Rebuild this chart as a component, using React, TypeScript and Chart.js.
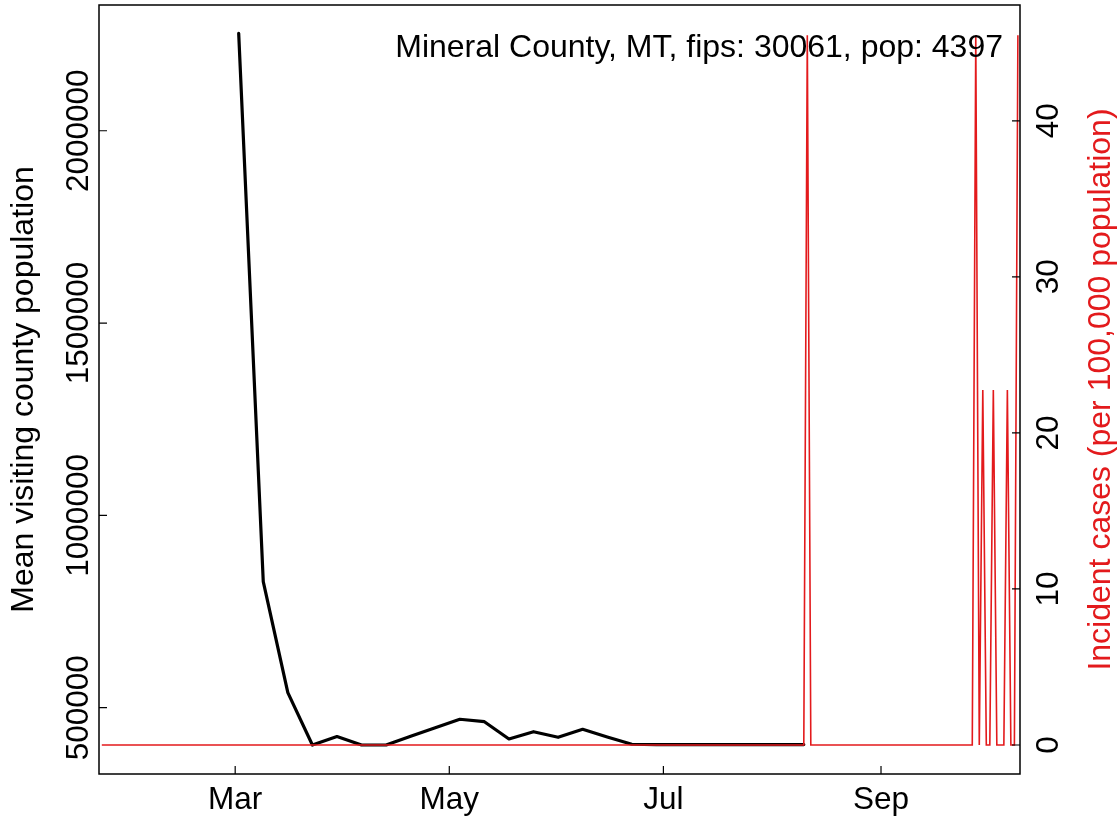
import React, { useEffect, useRef } from 'react';
import { Chart, registerables } from 'chart.js';

Chart.register(...registerables);

const TITLE = 'Mineral County, MT, fips: 30061, pop: 4397';
const LEFT_TITLE = 'Mean visiting county population';
const RIGHT_TITLE = 'Incident cases (per 100,000 population)';

// x values are day-of-year 2020 (Jan 1 = 0)
const visitDays = [61, 68, 75, 82, 89, 96, 103, 110, 117, 124, 131, 138, 145, 152, 159, 166, 173, 180, 187, 194, 201, 208, 215, 222];
const visitPop = [2253000, 827600, 539000, 403000, 425000, 403000, 403000, 426000, 448000, 470000, 463600, 418600, 437600, 423000, 443800, 424000, 405000, 404000, 404000, 404000, 404000, 404000, 404000, 404000];

const caseDays = [22, 222, 223, 224, 270, 271, 272, 273, 274, 275, 276, 277, 279, 280, 281, 282, 283];
const casesPer100k = [0, 0, 45.48, 0, 0, 45.48, 0, 22.74, 0, 0, 22.74, 0, 0, 22.74, 0, 0, 45.48];

const monthTickDays = [60, 121, 182, 244];
const monthTickLabels = ['Mar', 'May', 'Jul', 'Sep'];
const leftTicks = [500000, 1000000, 1500000, 2000000];
const rightTicks = [0, 10, 20, 30, 40];

const RED = '#e31a1c';
const FONT = '32px "Liberation Sans", Arial, sans-serif';
const TICK_FONT = '31.5px "Liberation Sans", Arial, sans-serif';

const axesPlugin = {
  id: 'rAxes',
  afterDraw(chart: any) {
    const { ctx, chartArea } = chart;
    const { left, right, top, bottom } = chartArea;
    const xs = chart.scales.x;
    const yl = chart.scales.y;
    const yr = chart.scales.y2;
    const tick = 8;
    ctx.save();
    // box
    ctx.strokeStyle = '#000';
    ctx.lineWidth = 1.5;
    ctx.strokeRect(left, top, right - left, bottom - top);
    ctx.lineWidth = 1.2;
    ctx.beginPath();
    monthTickDays.forEach((d) => {
      const px = xs.getPixelForValue(d);
      ctx.moveTo(px, bottom);
      ctx.lineTo(px, bottom - tick);
    });
    leftTicks.forEach((v) => {
      const py = yl.getPixelForValue(v);
      ctx.moveTo(left, py);
      ctx.lineTo(left + tick, py);
    });
    rightTicks.forEach((v) => {
      const py = yr.getPixelForValue(v);
      ctx.moveTo(right, py);
      ctx.lineTo(right - tick, py);
    });
    ctx.stroke();

    ctx.font = TICK_FONT;
    ctx.fillStyle = '#000';
    // x labels
    ctx.textAlign = 'center';
    ctx.textBaseline = 'alphabetic';
    monthTickDays.forEach((d, i) => {
      ctx.fillText(monthTickLabels[i], xs.getPixelForValue(d), 809);
    });
    const rot = (text: string, x: number, y: number, color: string, font: string) => {
      ctx.save();
      ctx.translate(x, y);
      ctx.rotate(-Math.PI / 2);
      ctx.font = font;
      ctx.fillStyle = color;
      ctx.textAlign = 'center';
      ctx.textBaseline = 'alphabetic';
      ctx.fillText(text, 0, 0);
      ctx.restore();
    };
    leftTicks.forEach((v) => rot(String(v), 88, yl.getPixelForValue(v), '#000', TICK_FONT));
    rightTicks.forEach((v) => rot(String(v), 1058, yr.getPixelForValue(v), '#000', TICK_FONT));
    const cy = (top + bottom) / 2;
    rot(LEFT_TITLE, 33, cy, '#000', FONT);
    rot(RIGHT_TITLE, 1110, cy, RED, FONT);
    // title
    ctx.font = FONT;
    ctx.textAlign = 'right';
    ctx.fillStyle = '#000';
    ctx.fillText(TITLE, 1003, 57);
    ctx.restore();
  },
};

export default function App() {
  const ref = useRef<HTMLCanvasElement | null>(null);
  useEffect(() => {
    if (!ref.current) return;
    const chart = new Chart(ref.current, {
      type: 'line',
      data: {
        datasets: [
          {
            label: 'cases',
            data: caseDays.map((d, i) => ({ x: d, y: casesPer100k[i] })),
            borderColor: RED,
            borderWidth: 1.6,
            pointRadius: 0,
            tension: 0,
            yAxisID: 'y2',
            order: 0,
          },
          {
            label: 'visits',
            data: visitDays.map((d, i) => ({ x: d, y: visitPop[i] })),
            borderColor: '#000',
            borderWidth: 3.2,
            pointRadius: 0,
            tension: 0,
            borderJoinStyle: 'round',
            borderCapStyle: 'round',
            yAxisID: 'y',
            order: 1,
          },
        ],
      },
      options: {
        animation: false,
        responsive: false,
        devicePixelRatio: 1,
        layout: { padding: { left: 99, right: 99, top: 5, bottom: 48 } },
        plugins: { legend: { display: false }, tooltip: { enabled: false } },
        scales: {
          x: { type: 'linear', min: 21.2, max: 283.6, display: false },
          y: { type: 'linear', min: 327600, max: 2326900, display: false },
          y2: { type: 'linear', min: -1.86, max: 47.42, display: false, position: 'right' },
        },
      },
      plugins: [axesPlugin],
    });
    return () => chart.destroy();
  }, []);
  return (
    <div style={{ position: 'absolute', left: 0, top: 0, width: 1119, height: 822, background: '#fff' }}>
      <canvas ref={ref} width={1119} height={822} />
    </div>
  );
}
